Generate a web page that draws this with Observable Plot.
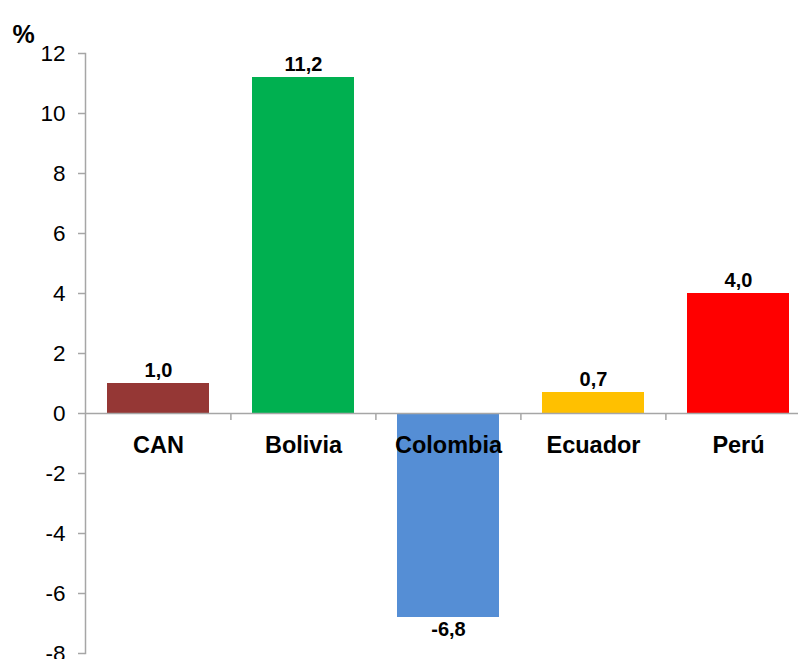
<!DOCTYPE html>
<html>
<head>
<meta charset="utf-8">
<script src="https://cdn.jsdelivr.net/npm/d3@7"></script>
<script src="https://cdn.jsdelivr.net/npm/@observablehq/plot@0.6"></script>
<style>
  html, body { margin: 0; padding: 0; background: #fff; }
  #chart svg { display: block; }
</style>
</head>
<body>
<div id="chart"></div>
<script>
const categories = ["CAN", "Bolivia", "Colombia", "Ecuador", "Perú"];
const values = [1.0, 11.2, -6.8, 0.7, 4.0];
const colors = ["#953735", "#00B050", "#558ED5", "#FFC000", "#FF0000"];
const yTicks = [-8, -6, -4, -2, 0, 2, 4, 6, 8, 10, 12];
const yUnit = "%";

const data = categories.map((c, i) => ({cat: c, value: values[i], color: colors[i]}));
const fmt = v => v.toFixed(1).replace(".", ",");
const axisGray = "#a6a6a6";
const font = "'Liberation Sans', Arial, sans-serif";

const chart = Plot.plot({
  width: 798,
  height: 659,
  marginLeft: 85,
  marginRight: 0,
  marginTop: 53,
  marginBottom: 6,
  style: {fontFamily: font, background: "#fff"},
  x: {domain: categories, range: [85, 811], paddingInner: 0.3, paddingOuter: 0.15, axis: null},
  y: {domain: [-8, 12], axis: null},
  color: {type: "identity"},
  marks: [
    Plot.frame({anchor: "left", stroke: axisGray, strokeWidth: 1.5}),
    Plot.axisY({ticks: yTicks, tickSize: 7, tickPadding: 13, stroke: axisGray, strokeWidth: 1.5,
      fill: "#000", fontSize: 22.5, tickFormat: d => String(d), label: null}),
    Plot.barY(data, {x: "cat", y: "value", fill: "color"}),
    Plot.ruleY([0], {stroke: axisGray, strokeWidth: 1.5}),
    Plot.ruleX(categories.slice(1), {x: d => d, dx: -72.6, y1: 0, y2: 0, insetBottom: -7, stroke: axisGray, strokeWidth: 1.5}),
    Plot.text(data.filter(d => d.value >= 0), {x: "cat", y: "value", text: d => fmt(d.value), dy: -13,
      fontSize: 20, fontWeight: "bold", fill: "#000"}),
    Plot.text(data.filter(d => d.value < 0), {x: "cat", y: "value", text: d => fmt(d.value), dy: 12,
      fontSize: 20, fontWeight: "bold", fill: "#000"}),
    Plot.text(data, {x: "cat", y: () => 0, text: "cat", dy: 32, fontSize: 23.5, fontWeight: "bold", fill: "#000"}),
    Plot.text([yUnit], {frameAnchor: "top-left", text: d => d, dx: -73, dy: -28, fontSize: 25,
      fontWeight: "bold", fill: "#000", textAnchor: "start"})
  ]
});
document.getElementById("chart").append(chart);
</script>
</body>
</html>
